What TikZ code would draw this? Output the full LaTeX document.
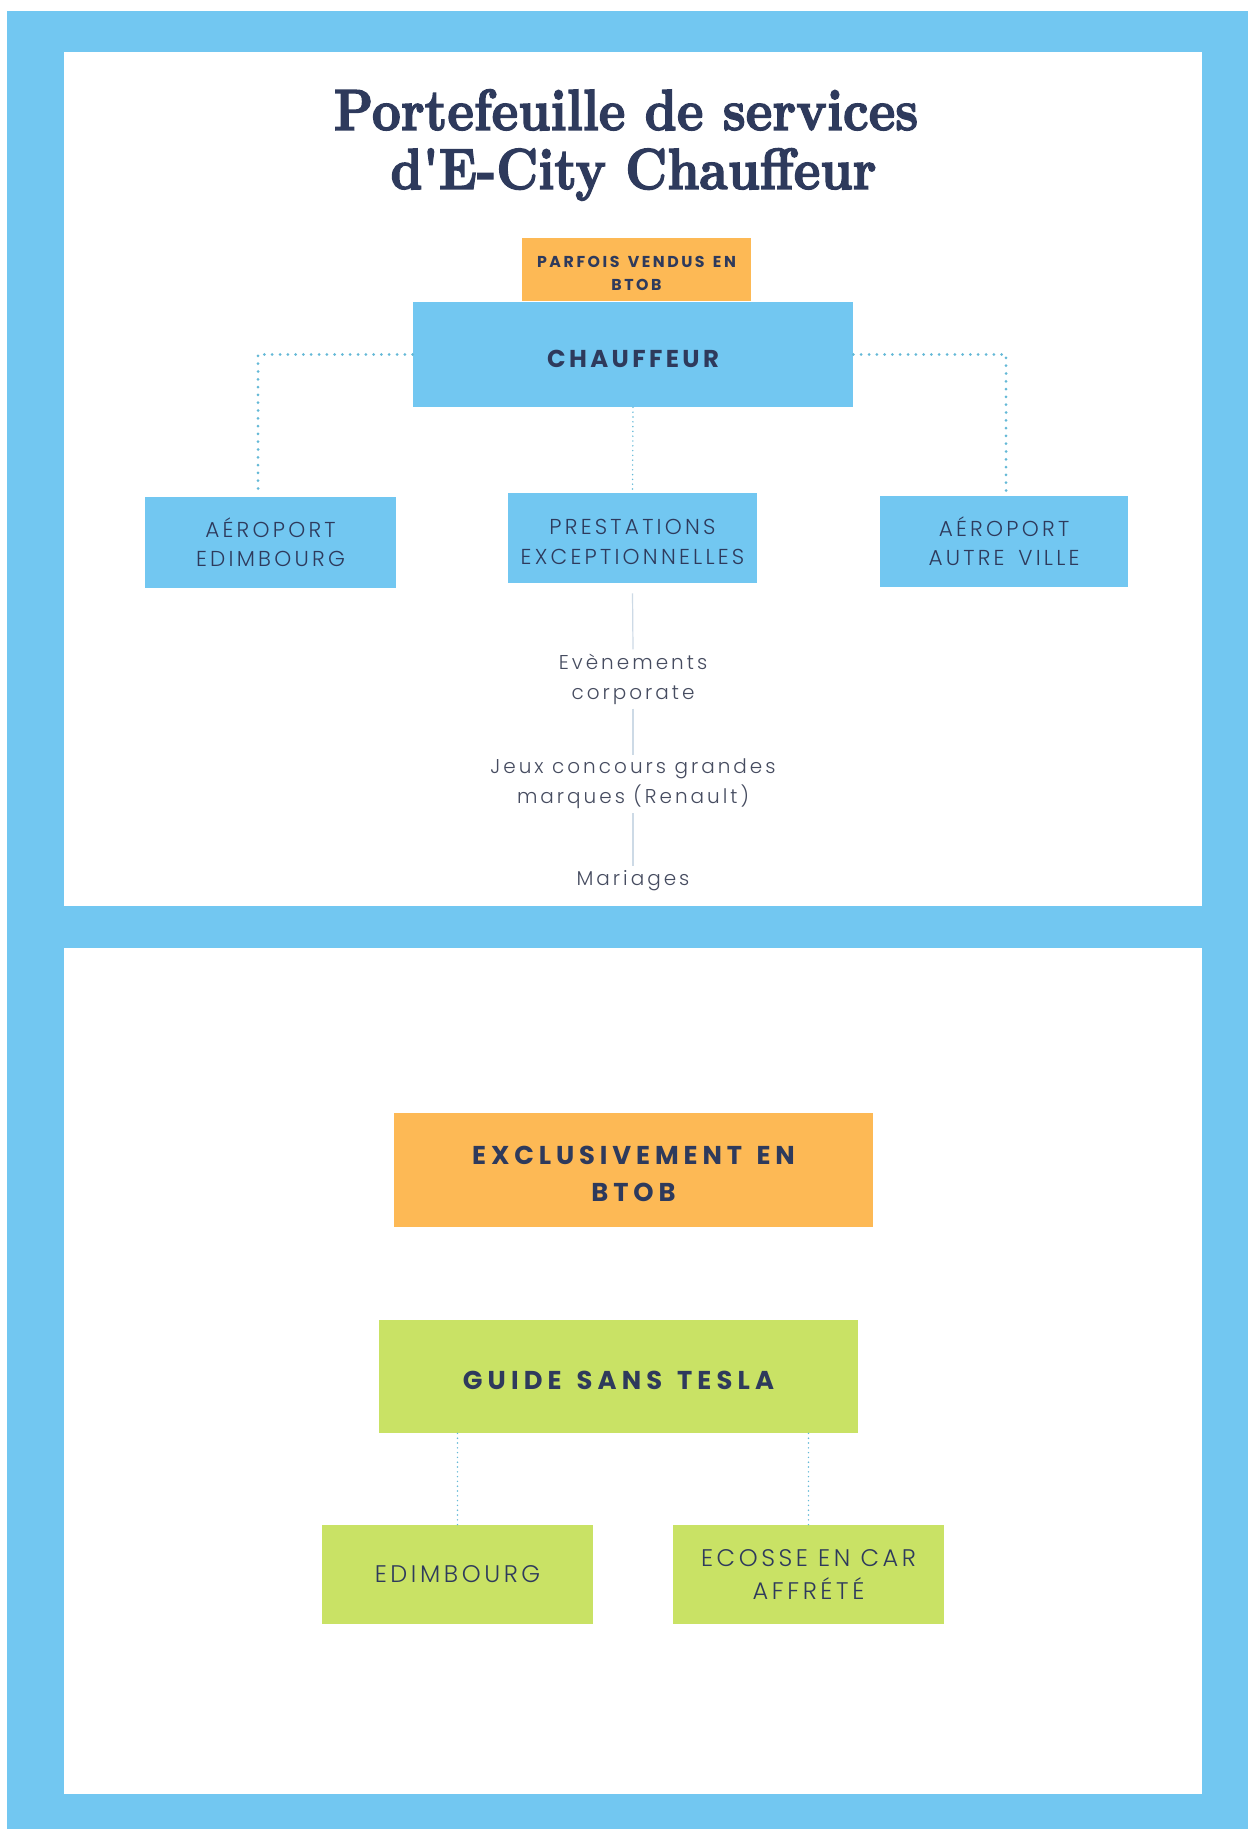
\documentclass[tikz,border=0pt]{standalone}
\usepackage{fontspec}
\setmainfont{Poppins}
\newfontfamily\boldfont{Poppins}[WordSpace=1.4]
\newfontfamily\lightfont{Poppins Light}[WordSpace=1.5]
\newfontfamily\greyfont{Poppins Light}
\newfontfamily\titlefont{lmroman10-bold.otf}[FakeBold=2.5]
\newcommand\droptext[1]{\raisebox{-2pt}[\height][\depth]{#1}}
\definecolor{skyblue}{RGB}{114,199,241}
\definecolor{peach}{RGB}{253,185,85}
\definecolor{lime}{RGB}{201,226,101}
\definecolor{navy}{RGB}{46,58,92}
\definecolor{dotblue}{RGB}{100,185,215}
\definecolor{faintline}{RGB}{205,218,230}
\definecolor{greytext}{RGB}{70,76,96}
\begin{document}
\begin{tikzpicture}[
	x=0.5pt, y=-0.5pt,
	box/.style={inner sep=0pt, align=center, text=navy},
	bluebox/.style={box, fill=skyblue},
	peachbox/.style={box, fill=peach},
	limebox/.style={box, fill=lime},
	boldlabel/.style 2 args={font=\fontsize{#1}{1.45\dimexpr#1\relax}\selectfont\boldfont\bfseries\addfontfeatures{LetterSpace=#2}},
	lightlabel/.style={font=\fontsize{#1}{1.35\dimexpr#1\relax}\selectfont\lightfont\addfontfeatures{LetterSpace=15}},
	greylabel/.style={inner sep=2pt, align=center, text=greytext,
		font=\fontsize{10pt}{15pt}\selectfont\greyfont\addfontfeatures{LetterSpace=15}},
	dotline/.style={draw=dotblue, line width=1.5pt, line cap=round, dash pattern=on 0pt off 3.9pt},
	dotthin/.style={draw=dotblue, line width=0.8pt, line cap=round, dash pattern=on 0pt off 2.4pt},
	faint/.style={draw=faintline, line width=0.6pt}]
\useasboundingbox (0,0) rectangle (1248,1829);
\fill[white] (0,0) rectangle (1248,1829);
\fill[skyblue] (7,11) rectangle (1248,1829);
\fill[white] (64,52) rectangle (1202,906);
\fill[white] (64,948) rectangle (1202,1794);
\node[anchor=base, text=navy] (title1) at (626,130)
	{\scalebox{0.87}[1]{\titlefont\fontsize{29pt}{30pt}\selectfont Portefeuille de services}};
\node[anchor=base, text=navy] (title2) at (633.5,189)
	{\scalebox{0.87}[1]{\titlefont\fontsize{29pt}{30pt}\selectfont d'E-City Chauffeur}};
\node[peachbox, boldlabel={7.9pt}{16}, minimum width=114.5pt, minimum height=31.5pt] (parfois) at (636.5,269.5)
	{\droptext{PARFOIS VENDUS EN}\\\droptext{BTOB}};
\node[bluebox, boldlabel={12.2pt}{14}, minimum width=220pt, minimum height=52.5pt] (chauffeur) at (633,354.5)
	{\droptext{CHAUFFEUR}};
\node[bluebox, lightlabel=10.8pt, minimum width=125.5pt, minimum height=45.5pt] (aeroEdi) at (270.5,542.5)
	{AÉROPORT\\EDIMBOURG};
\node[bluebox, lightlabel=10.8pt, minimum width=124.5pt, minimum height=45pt] (prestations) at (632.5,538)
	{\droptext{PRESTATIONS}\\\droptext{EXCEPTIONNELLES}};
\node[bluebox, lightlabel=10.8pt, minimum width=124pt, minimum height=45.5pt] (aeroAutre) at (1004,541.5)
	{AÉROPORT\\AUTRE VILLE};
\node[greylabel] (evenements) at (633,679) {Evènements\\corporate};
\node[greylabel] (jeux) at (633,784) {Jeux concours grandes\\marques (Renault)};
\node[greylabel] (mariages) at (633,881) {Mariages};
\draw[dotline] (chauffeur.west) -| ([xshift=-6.25pt,yshift=2pt]aeroEdi.north);
\draw[dotline] (chauffeur.east) -| ([xshift=1pt,yshift=2pt]aeroAutre.north);
\draw[dotthin] (chauffeur.south) -- (prestations.north);
\draw[faint] ([yshift=-5pt]prestations.south) -- (evenements.north);
\draw[faint] (evenements.south) -- (jeux.north);
\draw[faint] (jeux.south) -- (mariages.north);
\node[peachbox, boldlabel={12.9pt}{19}, minimum width=239.5pt, minimum height=57pt] (exclusif) at (633.5,1170)
	{\droptext{EXCLUSIVEMENT EN}\\\droptext{BTOB}};
\node[limebox, boldlabel={12.9pt}{20}, minimum width=239.5pt, minimum height=56.5pt] (guide) at (618.5,1376.5)
	{\droptext{GUIDE SANS TESLA}};
\node[limebox, lightlabel=12pt, minimum width=135.5pt, minimum height=49.5pt] (edimbourg) at (457.5,1574.5)
	{EDIMBOURG};
\node[limebox, lightlabel=12pt, minimum width=135.5pt, minimum height=49.5pt] (ecosse) at (808.5,1574.5)
	{ECOSSE EN CAR\\AFFRÉTÉ};
\draw[dotthin] (edimbourg.north) -- (edimbourg.north |- guide.south);
\draw[dotthin] (ecosse.north) -- (ecosse.north |- guide.south);
\end{tikzpicture}
\end{document}
